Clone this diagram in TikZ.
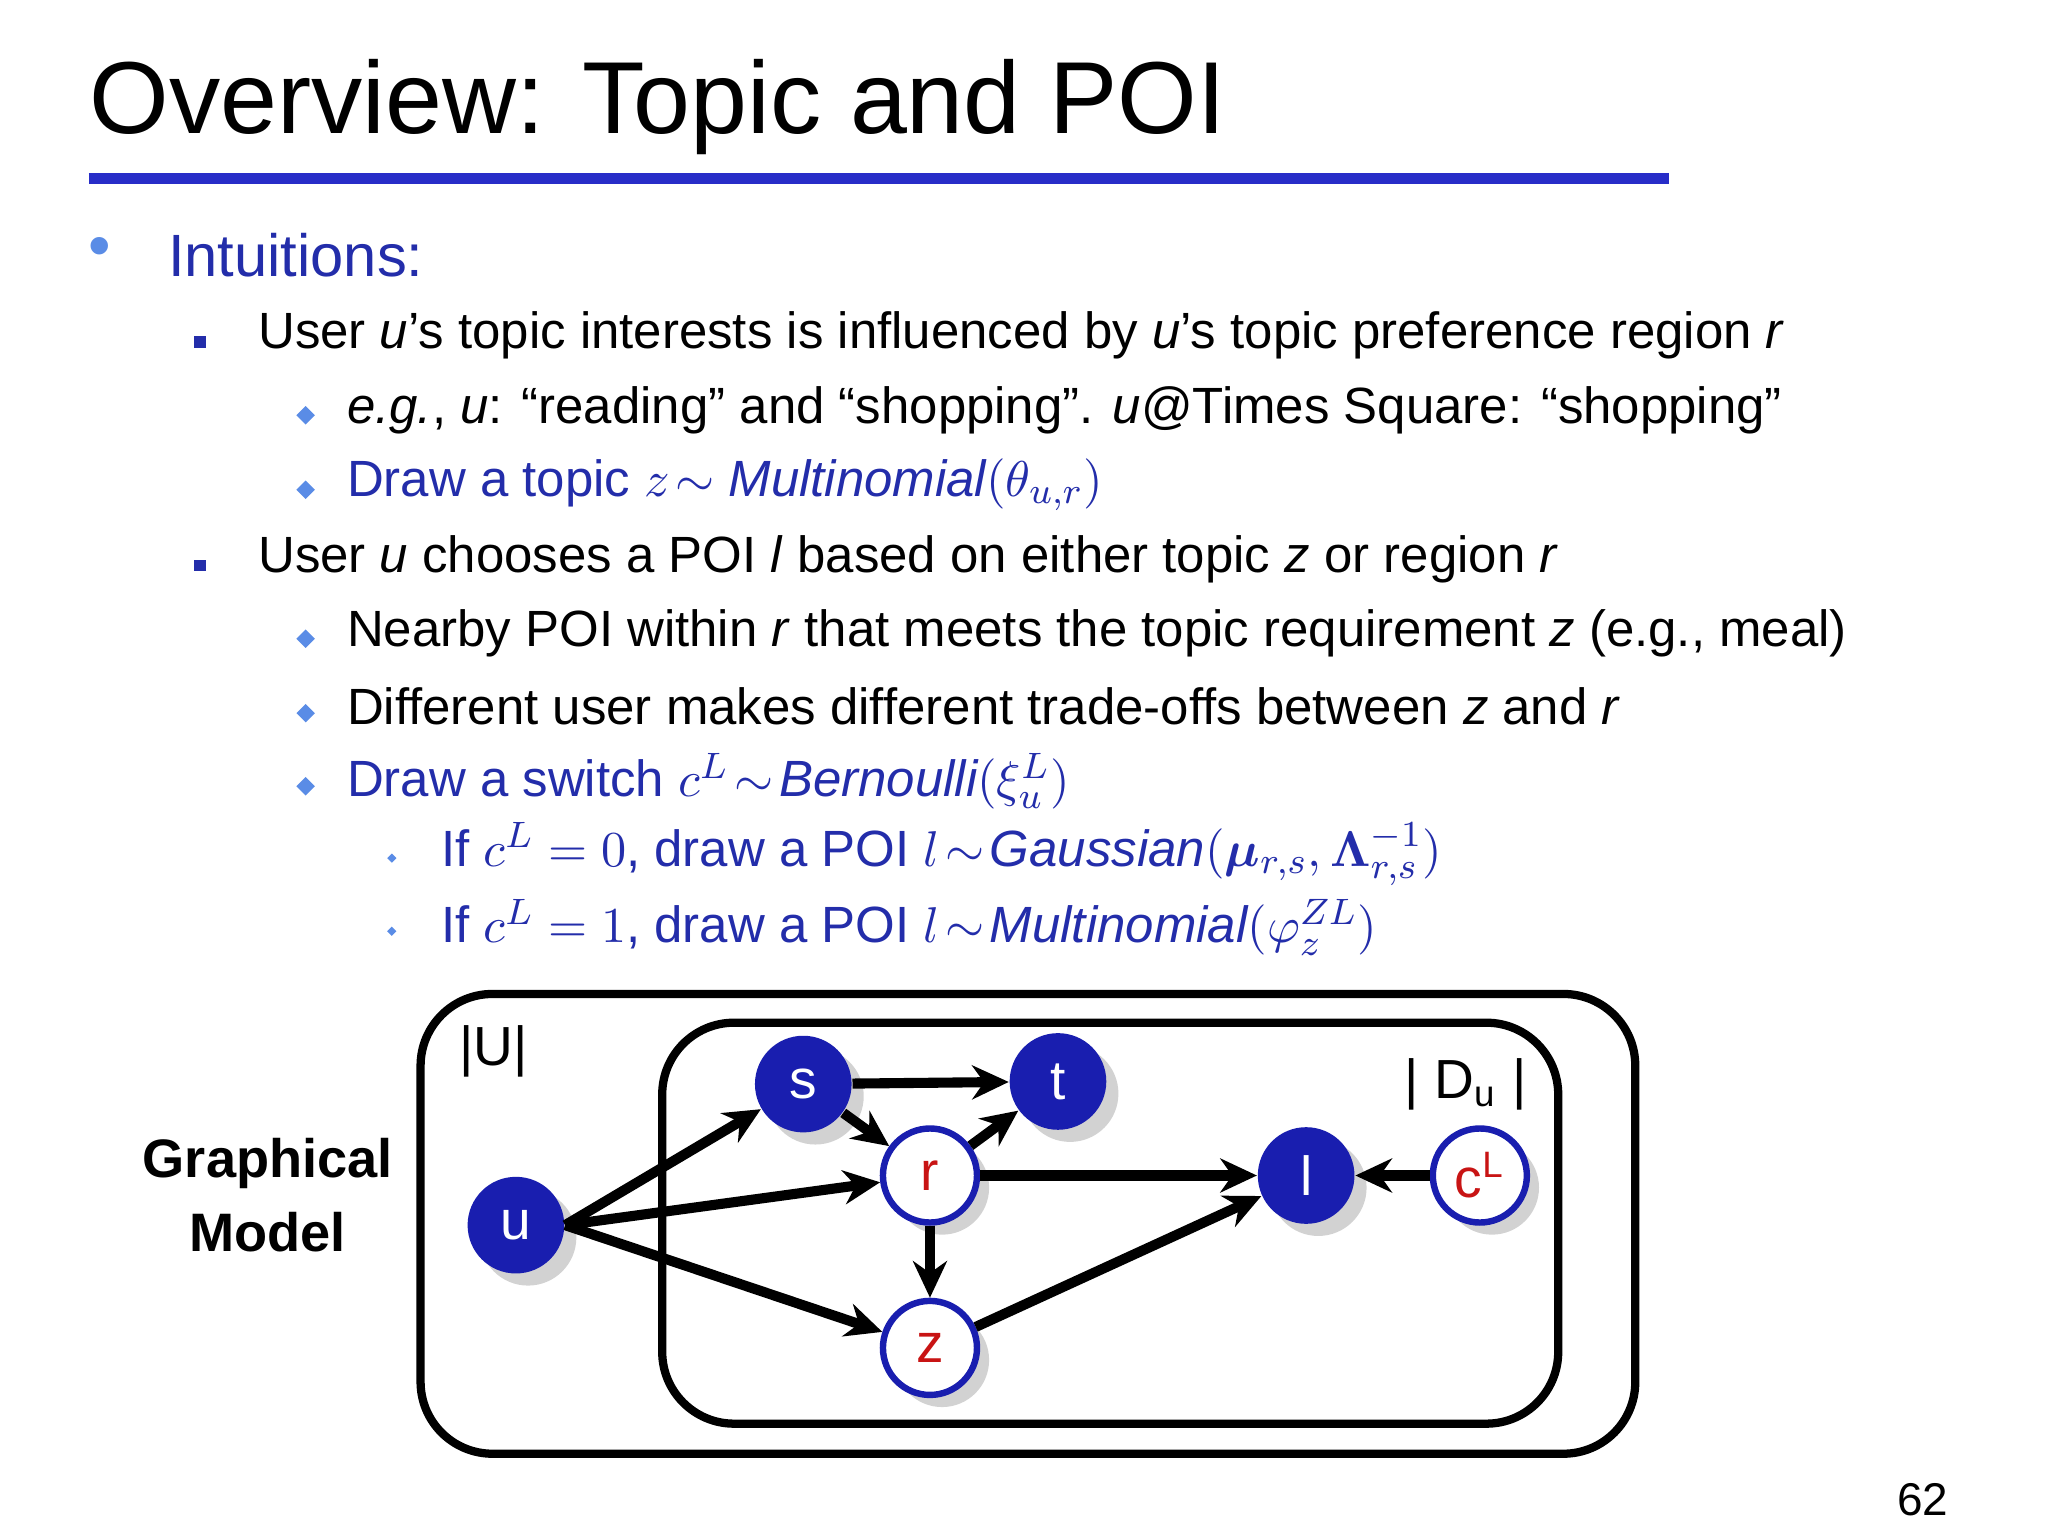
\documentclass[tikz,border=0pt]{standalone}
\usepackage{fontspec}
\setmainfont{Liberation Sans}
\usepackage{amsmath,bm}
\usetikzlibrary{arrows.meta,shadows}
\definecolor{tblue}{RGB}{40,45,200}
\definecolor{iblue}{RGB}{35,45,170}
\definecolor{bl}{RGB}{90,140,230}
\definecolor{nblue}{RGB}{25,30,175}
\definecolor{nred}{RGB}{200,20,20}
\tikzset{
 txt/.style={anchor=west,inner sep=0pt,font=\fontsize{11.1pt}{13pt}\selectfont},
 sq/.style={fill=iblue,minimum size=0.09cm,inner sep=0pt},
 dm/.style={fill=bl,minimum size=0.1cm,inner sep=0pt,rotate=45},
 sdm/.style={fill=bl,minimum size=0.05cm,inner sep=0pt,rotate=45},
 fnode/.style={circle,minimum size=0.74cm,inner sep=0pt,fill=nblue,text=white,font=\fontsize{12pt}{14pt}\selectfont,drop shadow={opacity=0.35}},
 onode/.style={circle,minimum size=0.72cm,inner sep=0pt,fill=white,draw=nblue,line width=1.4pt,text=nred,font=\fontsize{12pt}{14pt}\selectfont,drop shadow={opacity=0.35}},
 arr/.style={line width=2.2pt,-{Stealth[length=0.28cm,width=0.26cm]}},
 box/.style={line width=1.8pt,rounded corners=0.55cm}
}
\begin{document}
\begin{tikzpicture}
\useasboundingbox (0,0) rectangle (15.68,-11.76);
\fill[white] (0,0) rectangle (15.68,-11.76);
\node[anchor=base west,inner sep=0pt,font=\fontsize{22.3pt}{26pt}\selectfont] (title) at (0.68,-1.02) {Overview: Topic and POI};
\draw[tblue,line width=2.4pt] (0.68,-1.37) -- (12.78,-1.37);
\node[text=bl,font=\fontsize{14pt}{16pt}\selectfont] (b0) at (0.76,-1.93) {•};
\node[txt,text=iblue,font=\fontsize{13pt}{15pt}\selectfont] (int) at (1.28,-1.95) {Intuitions:};
\node[sq] (s1) at (1.53,-2.62) {};
\node[txt] (l1) at (1.97,-2.57) {User \textit{u}’s topic interests is influenced by \textit{u}’s topic preference region \textit{r}};
\node[dm] (d1) at (2.34,-3.18) {};
\node[txt] (l2) at (2.65,-3.14) {\textit{e.g.}, \textit{u}: “reading” and “shopping”. \textit{u}@Times Square: “shopping”};
\node[dm] (d2) at (2.34,-3.75) {};
\node[txt,text=iblue] (l3) at (2.65,-3.71) {Draw a topic $z\!\sim \mathit{Multinomial}(\theta_{u,r})$};
\node[sq] (s2) at (1.53,-4.33) {};
\node[txt] (l4) at (1.97,-4.28) {User \textit{u} chooses a POI \textit{l} based on either topic \textit{z} or region \textit{r}};
\node[dm] (d3) at (2.34,-4.89) {};
\node[txt] (l5) at (2.65,-4.85) {Nearby POI within \textit{r} that meets the topic requirement \textit{z} (e.g., meal)};
\node[dm] (d4) at (2.34,-5.46) {};
\node[txt] (l6) at (2.65,-5.41) {Different user makes different trade-offs between \textit{z} and \textit{r}};
\node[dm] (d5) at (2.34,-6.02) {};
\node[txt,text=iblue] (l7) at (2.65,-5.98) {Draw a switch $c^L\!\sim\!\mathit{Bernoulli}(\xi_u^L)$};
\node[sdm] (d6) at (3.00,-6.57) {};
\node[txt,text=iblue] (l8) at (3.37,-6.54) {If $c^L=0$, draw a POI $l\!\sim\!\mathit{Gaussian}(\bm{\mu}_{r,s},\bm{\Lambda}_{r,s}^{-1})$};
\node[sdm] (d7) at (3.00,-7.13) {};
\node[txt,text=iblue] (l9) at (3.37,-7.10) {If $c^L=1$, draw a POI $l\!\sim\!\mathit{Multinomial}(\varphi_z^{ZL})$};
% graphical model
\draw[box] (3.22,-7.61) rectangle (12.52,-11.13);
\draw[box] (5.07,-7.83) rectangle (11.93,-10.90);
\node[font=\fontsize{12pt}{14pt}\selectfont] (U) at (3.78,-8.05) {|U|};
\node[font=\fontsize{12pt}{14pt}\selectfont] (Du) at (11.22,-8.30) {| D$_{\text{u}}$ |};
\node[align=center,font=\bfseries\fontsize{11.8pt}{16pt}\selectfont] (gm) at (2.05,-9.15) {Graphical\\Model};
\node[fnode] (s) at (6.15,-8.30) {s};
\node[fnode] (t) at (8.10,-8.28) {t};
\node[onode] (r) at (7.12,-9.00) {r};
\node[fnode] (u) at (3.95,-9.38) {u};
\node[fnode] (l) at (10.00,-9.00) {l};
\node[onode] (c) at (11.33,-9.00) {c$^{\text{L}}$};
\node[onode] (z) at (7.12,-10.32) {z};
\draw[arr] (u.east) -- (s);
\draw[arr] (u.east) -- (r);
\draw[arr] (u.east) -- (z);
\draw[arr] (s) -- (t);
\draw[arr] (s) -- (r);
\draw[arr] (r) -- (t);
\draw[arr] (r) -- (l);
\draw[arr] (r) -- (z);
\draw[arr] (z) -- (l);
\draw[arr] (c) -- (l);
\node[font=\fontsize{10pt}{12pt}\selectfont] (pg) at (14.72,-11.48) {62};
\end{tikzpicture}
\end{document}
